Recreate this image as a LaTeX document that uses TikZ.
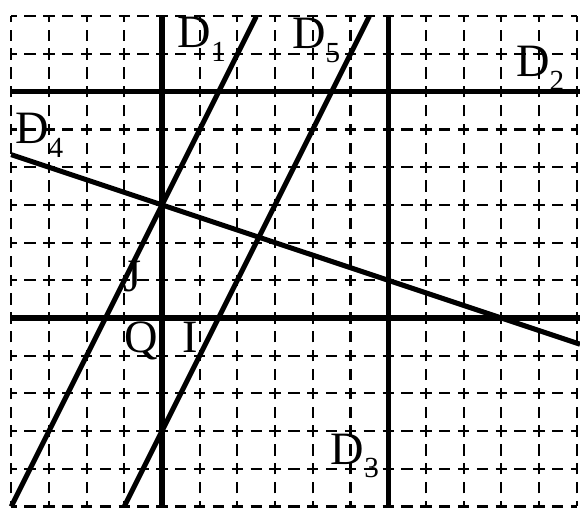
\documentclass[tikz,border=0pt]{standalone}
\usepackage{fontspec}
\setmainfont{Liberation Serif}
\newcommand{\lblD}[1]{D\raisebox{-0.3em}{\fontsize{22}{22}\selectfont #1}}

\begin{document}
\begin{tikzpicture}[
    gridline/.style={line width=1.6pt, dash pattern=on 0.3cm off 0.2cm, dash phase=0.15cm},
    bold/.style={line width=3.8pt},
    lbl/.style={font=\fontsize{35}{35}\selectfont, inner sep=0pt}]
    \useasboundingbox (-4.297,-5.04) rectangle (11.088,8.435);

    \foreach \x in {-4,...,11}
        \draw[gridline] (\x,-5) -- (\x,8);
    \foreach \y in {-5,...,8}
        \draw[gridline] (-4,\y) -- (11,\y);

    \draw[bold] (-4,0) -- (11.088,0);
    \draw[bold] (0,-5.04) -- (0,8);
    \draw[bold] (6,-5.04) -- (6,8);
    \draw[bold] (-4,6) -- (11.088,6);
    \draw[bold] (-4,-5) -- (2.5,8);
    \draw[bold] (-1,-5) -- (5.5,8);
    \draw[bold] (-4,4.333) -- (11.088,-0.696);

    \node[lbl] (d1) at (1.06,7.38) {\lblD{1}};
    \node[lbl] (d5) at (4.09,7.37) {\lblD{5}};
    \node[lbl] (d2) at (10.03,6.63) {\lblD{2}};
    \node[lbl] (d4) at (-3.26,4.85) {\lblD{4}};
    \node[lbl] (d3) at (5.12,-3.66) {\lblD{3}};
    \node[lbl] (j) at (-0.77,1.09) {J};
    \node[lbl] (q) at (-0.56,-0.61) {Q};
    \node[lbl] (i) at (0.75,-0.5) {I};
\end{tikzpicture}
\end{document}
